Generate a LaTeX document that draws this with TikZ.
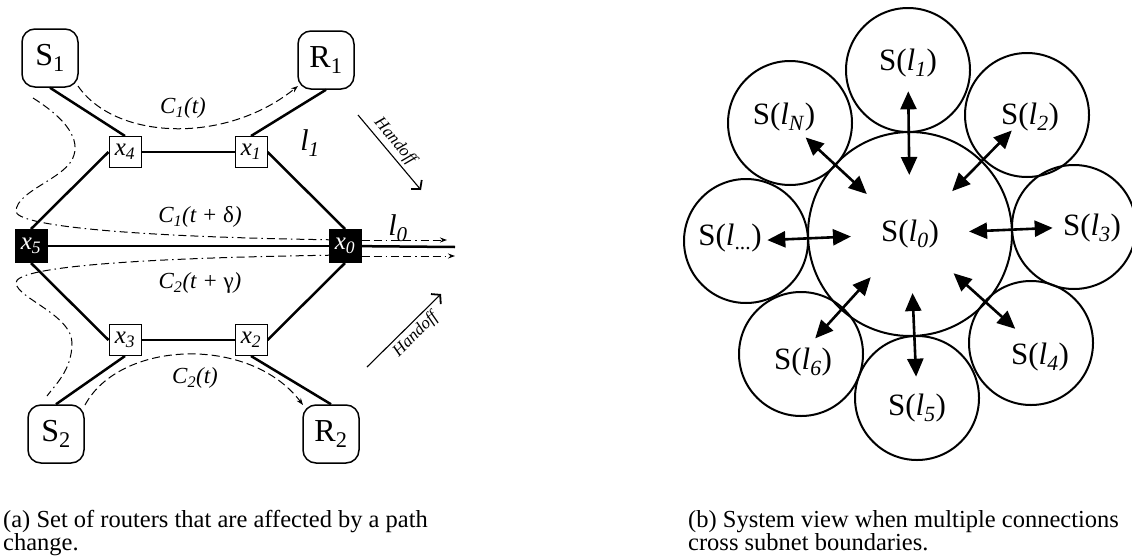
\documentclass[tikz,border=0pt]{standalone}
\usepackage{fontspec}
\setmainfont{Liberation Serif}
\usetikzlibrary{arrows.meta,backgrounds,calc}
\newcommand{\myfs}[1]{\fontsize{#1}{#1}\selectfont}
\begin{document}
\begin{tikzpicture}[x=1pt,y=-1pt,
  host/.style={draw, line width=1.5pt, rounded corners=13pt, minimum width=56pt, minimum height=58pt, inner sep=0pt, font=\myfs{32}},
  router/.style={draw, line width=1pt, fill=white, minimum width=32pt, minimum height=31pt, inner sep=0pt, font=\myfs{25}\itshape},
  border/.style={router, fill=black, text=white, minimum height=33pt},
  link/.style={line width=2.5pt},
  flow/.style={line width=1pt, dash pattern=on 8pt off 4pt},
  flowdd/.style={line width=1pt, dash pattern=on 8pt off 4pt on 8pt off 4pt on 1.5pt off 4pt},
  ftip/.style={-{Stealth[length=7pt,width=5pt]}},
  lbl/.style={font=\myfs{23}\itshape, inner sep=0pt},
  biglbl/.style={font=\myfs{30}\itshape, inner sep=0pt},
  hand/.style={line width=1.1pt, -{Straight Barb[length=6pt,width=14pt,line width=1.8pt]}},
  handtxt/.style={font=\myfs{17}\itshape, inner sep=3pt, sloped},
  sat/.style={draw, circle, line width=2pt, minimum size=124pt, inner sep=0pt},
  core/.style={draw, circle, line width=2pt, minimum size=204pt, inner sep=0pt, font=\myfs{31}},
  slbl/.style={font=\myfs{31}, inner sep=0pt},
  dbl/.style={line width=2.6pt, {Triangle[length=18pt,width=16pt]}-{Triangle[length=18pt,width=16pt]}},
  captext/.style={font=\myfs{24.5}, inner sep=0pt, anchor=base west}
]
\useasboundingbox (0,0) rectangle (1132,557);

% ---------------- (a) ----------------
\node[host] (S1) at (50,58) {S\textsubscript{1}};
\node[host] (R1) at (326,60) {R\textsubscript{1}};
\node[host] (S2) at (56,434) {S\textsubscript{2}};
\node[host] (R2) at (331,434) {R\textsubscript{2}};
\node[router] (x4) at (125,152) {x\textsubscript{4}};
\node[router] (x1) at (251,152) {x\textsubscript{1}};
\node[router] (x3) at (125,340) {x\textsubscript{3}};
\node[router] (x2) at (251,340) {x\textsubscript{2}};
\node[border] (x5) at (31,246) {x\textsubscript{5}};
\node[border] (x0) at (345,246) {x\textsubscript{0}};

\coordinate (l0end) at (455,247);
\coordinate (f1) at (447,240);
\coordinate (f2) at (455,256);

\begin{scope}[on background layer]
\draw[link] (S1.south) -- (x4.north);
\draw[link] (R1.south) -- (x1.north);
\draw[link] (x4) -- (x1);
\draw[link] (x5.north) -- (x4.west);
\draw[link] (x1.east) -- (x0.north);
\draw[link] (x5) -- (x0);
\draw[link] (x0) -- (l0end);
\draw[link] (x5.south) -- (x3.west);
\draw[link] (x3) -- (x2);
\draw[link] (x2.east) -- (x0.south);
\draw[link] (x3.south) -- (S2.north);
\draw[link] (x2.south) -- (R2.north);

% flows
\coordinate (c1s) at (78,86);
\coordinate (c1e) at (298,86);
\draw[flow, ftip] (c1s) .. controls (115,140) and (225,145) .. (c1e);
\coordinate (c2s) at (85,405);
\coordinate (c2e) at (303,405);
\draw[flow, ftip] (c2s) .. controls (120,340) and (250,335) .. (c2e);
\coordinate (d1s) at (33,98);
\draw[flowdd] (d1s) .. controls (60,115) and (80,135) .. (74,155)
   .. controls (68,178) and (17,190) .. (16,211)
   .. controls (15,225) and (120,237) .. ([yshift=6pt]x0.center);
\draw[flowdd, ftip] (x0.east |- f1) -- (f1);
\coordinate (d2e) at (47,396);
\draw[flowdd] ([yshift=-9pt]x0.center) .. controls (120,258) and (15,268) .. (16,283)
   .. controls (17,298) and (72,315) .. (72,343)
   .. controls (72,370) and (55,385) .. (d2e);
\draw[flowdd, ftip] (x0.east |- f2) -- (f2);
\end{scope}

\node[lbl] (lc1) at (183,108) {C\textsubscript{1}(t)};
\node[lbl] (lc1d) at (200,217) {C\textsubscript{1}(t + {\upshape δ})};
\node[lbl] (lc2g) at (200,283) {C\textsubscript{2}(t + {\upshape γ})};
\node[lbl] (lc2) at (195,378) {C\textsubscript{2}(t)};
\node[biglbl] (ll1) at (310,143) {l\textsubscript{1}};
\node[biglbl] (ll0) at (398,228) {l\textsubscript{0}};

\coordinate (h1s) at (358,115);
\coordinate (h1e) at (421,190);
\draw[hand] (h1s) -- node[handtxt, above, pos=0.45] {Handoff} (h1e);
\coordinate (h2s) at (367,367);
\coordinate (h2e) at (441,294);
\draw[hand] (h2s) -- node[handtxt, below, pos=0.55] {Handoff} (h2e);

% ---------------- (b) ----------------
\node[core] (c0) at (910,234) {S(\textit{l}\textsubscript{\textit{0}})};
\node[sat] (c1) at (908,70) {};
\node[sat] (cN) at (790,123) {};
\node[sat] (c2) at (1027,115) {};
\node[sat] (c3) at (1074,227) {};
\node[sat] (cd) at (746,241) {};
\node[sat] (c6) at (801,354) {};
\node[sat] (c5) at (917,398) {};
\node[sat] (c4) at (1031,343) {};

\node[slbl] (t1) at (908,63) {S(\textit{l}\textsubscript{\textit{1}})};
\node[slbl] (tN) at (784,117) {S(\textit{l}\textsubscript{\textit{N}})};
\node[slbl] (t2) at (1030,117) {S(\textit{l}\textsubscript{\textit{2}})};
\node[slbl] (t3) at (1092,228) {S(\textit{l}\textsubscript{\textit{3}})};
\node[slbl] (td) at (730,238) {S(\textit{l}\textsubscript{...})};
\node[slbl] (t6) at (803,362) {S(\textit{l}\textsubscript{\textit{6}})};
\node[slbl] (t5) at (917,408) {S(\textit{l}\textsubscript{\textit{5}})};
\node[slbl] (t4) at (1040,357) {S(\textit{l}\textsubscript{\textit{4}})};

\foreach \s in {c1,cN,c2,c3,cd,c6,c5,c4}{
  \draw[dbl] ($(c0)!0.36!(\s)$) -- ($(c0)!0.87!(\s)$);
}

% captions
\node[captext] (capa1) at (3,527) {(a) Set of routers that are affected by a path};
\node[captext] (capa2) at (3,550) {change.};
\node[captext] (capb1) at (688,527) {(b) System view when multiple connections};
\node[captext] (capb2) at (688,550) {cross subnet boundaries.};
\end{tikzpicture}
\end{document}
